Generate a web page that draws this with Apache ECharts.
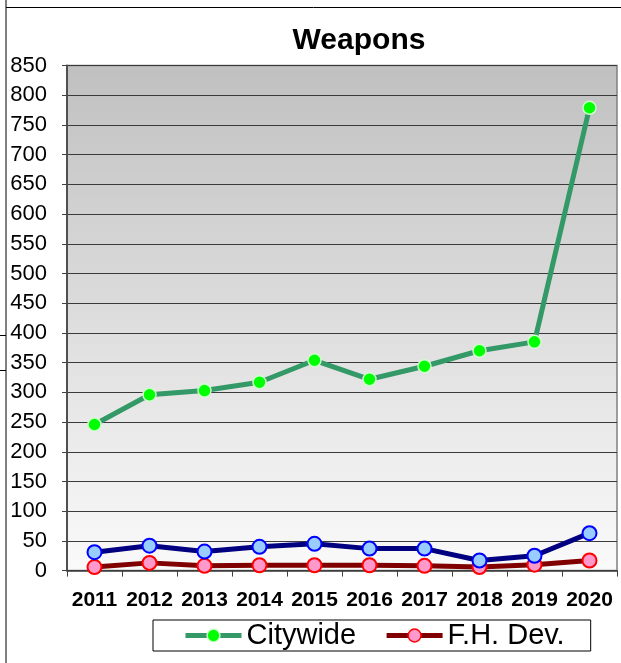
<!DOCTYPE html>
<html>
<head>
<meta charset="utf-8">
<script src="https://cdn.jsdelivr.net/npm/echarts@6/dist/echarts.min.js"></script>
<style>
html,body{margin:0;padding:0;background:#fff;}
#chart{width:621px;height:663px;}
</style>
</head>
<body>
<div id="chart"></div>
<script>
const years = ['2011','2012','2013','2014','2015','2016','2017','2018','2019','2020'];
const citywide = [246, 296, 303, 317, 354, 322, 344, 370, 385, 779];
const fhDev = [6, 13, 8, 9, 9, 9, 8, 6, 10, 17];
const thirdSeries = [31, 42, 32, 40, 45, 37, 37, 17, 25, 63];
const yTicks = {min: 0, max: 850, interval: 50};

const FONT = '"Liberation Sans", Arial, sans-serif';
const chart = echarts.init(document.getElementById('chart'), null, {renderer: 'canvas'});

chart.setOption({
  animation: false,
  backgroundColor: '#ffffff',
  title: {
    text: 'Weapons',
    left: 359,
    top: 26,
    padding: 0,
    textAlign: 'center',
    textStyle: {fontFamily: FONT, fontSize: 30, fontWeight: 'bold', color: '#000'}
  },
  graphic: [
    {type: 'line', shape: {x1: 6, y1: 0, x2: 6, y2: 663}, style: {stroke: '#000', lineWidth: 1}},
    {type: 'line', shape: {x1: 6, y1: 7.5, x2: 621, y2: 7.5}, style: {stroke: '#000', lineWidth: 1}},
    {type: 'line', shape: {x1: 0, y1: 335.5, x2: 6, y2: 335.5}, style: {stroke: '#000', lineWidth: 1}},
    {type: 'line', shape: {x1: 0, y1: 370.5, x2: 6, y2: 370.5}, style: {stroke: '#000', lineWidth: 1}}
  ],
  legend: {
    data: ['Citywide', 'F.H. Dev.'],
    left: 153,
    top: 620,
    orient: 'horizontal',
    padding: [1, 26, 1, 30],
    itemGap: 28,
    itemWidth: 56,
    itemHeight: 16,
    borderColor: '#000',
    borderWidth: 1,
    backgroundColor: '#fff',
    lineStyle: {width: 5},
    itemStyle: {borderWidth: 1.5},
    textStyle: {fontFamily: FONT, fontSize: 29, color: '#000'}
  },
  grid: {
    left: 67,
    right: 4,
    top: 65.6,
    bottom: 92.4,
    show: true,
    borderColor: '#808080',
    borderWidth: 1.5,
    backgroundColor: new echarts.graphic.LinearGradient(0, 0, 0, 1, [
      {offset: 0, color: '#c0c0c0'},
      {offset: 1, color: '#fafafa'}
    ])
  },
  xAxis: {
    type: 'category',
    data: years,
    boundaryGap: true,
    axisLine: {show: true, lineStyle: {color: '#404040', width: 1.5}},
    axisTick: {show: true, inside: false, length: 6, alignWithLabel: false, lineStyle: {color: '#404040'}},
    axisLabel: {fontFamily: FONT, fontSize: 21, fontWeight: 'bold', color: '#000', margin: 19, interval: 0},
    splitLine: {show: false}
  },
  yAxis: {
    type: 'value',
    min: yTicks.min,
    max: yTicks.max,
    interval: yTicks.interval,
    axisLine: {show: true, lineStyle: {color: '#505050', width: 2}},
    axisTick: {show: true, inside: false, length: 5, lineStyle: {color: '#404040'}},
    axisLabel: {fontFamily: FONT, fontSize: 22, color: '#000', margin: 20},
    splitLine: {show: true, lineStyle: {color: '#3a3a3a', width: 1}}
  },
  series: [
    {
      name: 'Citywide',
      type: 'line',
      data: citywide,
      symbol: 'circle',
      symbolSize: 13,
      lineStyle: {color: '#339966', width: 5},
      itemStyle: {color: '#00ff00', borderColor: '#ccffcc', borderWidth: 1.5},
      z: 3
    },
    {
      name: 'F.H. Dev.',
      type: 'line',
      data: fhDev,
      symbol: 'circle',
      symbolSize: 14,
      lineStyle: {color: '#800000', width: 5},
      itemStyle: {color: '#ff99cc', borderColor: '#ff0000', borderWidth: 2},
      z: 3
    },
    {
      name: 'Series 3',
      type: 'line',
      data: thirdSeries,
      symbol: 'circle',
      symbolSize: 14,
      lineStyle: {color: '#000080', width: 5},
      itemStyle: {color: '#99ccff', borderColor: '#0000ff', borderWidth: 2},
      z: 4
    }
  ]
});
</script>
</body>
</html>
